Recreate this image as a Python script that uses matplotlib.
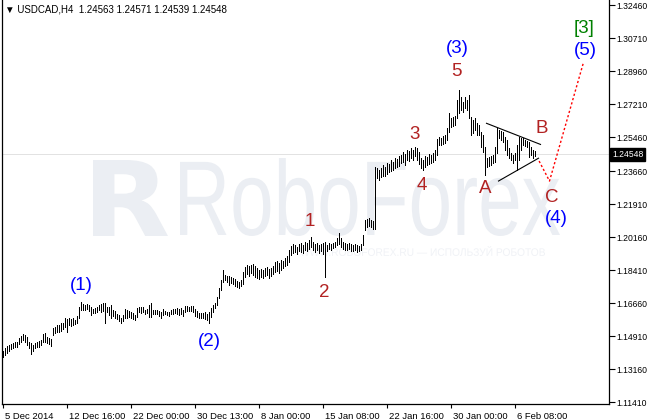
import numpy as np
import matplotlib
matplotlib.use("Agg")
import matplotlib.pyplot as plt
from matplotlib.textpath import TextPath
from matplotlib.patches import PathPatch
from matplotlib.font_manager import FontProperties
from matplotlib.transforms import Affine2D, ScaledTranslation, blended_transform_factory

plt.rcParams["font.family"] = ["Liberation Sans", "DejaVu Sans"]

# USDCAD H4 bars (high / low)
bar_high = [
    1.1412, 1.1428, 1.1439, 1.1444, 1.1449, 1.1455, 1.1460, 1.1460, 1.1481, 1.1492,
    1.1502, 1.1497, 1.1486, 1.1460, 1.1455, 1.1444, 1.1455, 1.1460, 1.1465, 1.1471,
    1.1502, 1.1508, 1.1486, 1.1481, 1.1476, 1.1534, 1.1539, 1.1550, 1.1550, 1.1561,
    1.1561, 1.1587, 1.1582, 1.1587, 1.1582, 1.1587, 1.1576, 1.1598, 1.1645, 1.1672,
    1.1661, 1.1656, 1.1661, 1.1656, 1.1645, 1.1635, 1.1640, 1.1645, 1.1656, 1.1661,
    1.1667, 1.1667, 1.1645, 1.1645, 1.1656, 1.1630, 1.1624, 1.1608, 1.1603, 1.1587,
    1.1603, 1.1635, 1.1630, 1.1624, 1.1619, 1.1614, 1.1603, 1.1640, 1.1645, 1.1645,
    1.1645, 1.1630, 1.1635, 1.1656, 1.1667, 1.1630, 1.1630, 1.1630, 1.1624, 1.1619,
    1.1635, 1.1624, 1.1619, 1.1619, 1.1630, 1.1635, 1.1635, 1.1640, 1.1635, 1.1640,
    1.1630, 1.1651, 1.1651, 1.1645, 1.1651, 1.1651, 1.1635, 1.1624, 1.1614, 1.1614,
    1.1614, 1.1619, 1.1608, 1.1619, 1.1640, 1.1656, 1.1667, 1.1698, 1.1746, 1.1788,
    1.1841, 1.1815, 1.1810, 1.1810, 1.1804, 1.1799, 1.1794, 1.1783, 1.1778, 1.1788,
    1.1831, 1.1857, 1.1868, 1.1863, 1.1868, 1.1873, 1.1863, 1.1852, 1.1841, 1.1847,
    1.1841, 1.1852, 1.1857, 1.1847, 1.1852, 1.1863, 1.1884, 1.1889, 1.1879, 1.1895,
    1.1889, 1.1905, 1.1916, 1.1947, 1.1969, 1.1979, 1.1974, 1.1963, 1.1979, 1.1985,
    1.1974, 1.1990, 1.1985, 1.2000, 1.2016, 1.1990, 1.1979, 1.1985, 1.1974, 1.1979,
    1.1985, 1.1990, 1.1974, 1.1985, 1.1979, 1.1985, 1.1990, 1.2011, 1.2038, 1.2011,
    1.1990, 1.1985, 1.1979, 1.1985, 1.1979, 1.1974, 1.1979, 1.1974, 1.1969, 1.1979,
    1.2027, 1.2107, 1.2112, 1.2117, 1.2107, 1.2101, 1.2387, 1.2382, 1.2372, 1.2382,
    1.2398, 1.2387, 1.2409, 1.2403, 1.2425, 1.2414, 1.2435, 1.2430, 1.2446, 1.2451,
    1.2467, 1.2456, 1.2478, 1.2472, 1.2488, 1.2478, 1.2493, 1.2488, 1.2467, 1.2435,
    1.2425, 1.2446, 1.2440, 1.2456, 1.2451, 1.2462, 1.2478, 1.2536, 1.2546, 1.2541,
    1.2552, 1.2557, 1.2594, 1.2674, 1.2647, 1.2652, 1.2658, 1.2743, 1.2796, 1.2758,
    1.2732, 1.2758, 1.2743, 1.2769, 1.2652, 1.2637, 1.2647, 1.2621, 1.2610, 1.2573,
    1.2557, 1.2493, 1.2435, 1.2440, 1.2446, 1.2451, 1.2493, 1.2594, 1.2583, 1.2578,
    1.2573, 1.2546, 1.2530, 1.2488, 1.2462, 1.2451, 1.2462, 1.2504, 1.2546, 1.2541,
    1.2541, 1.2530, 1.2525, 1.2520, 1.2493, 1.2478, 1.2472, 1.24571,
]
bar_low = [
    1.1380, 1.1391, 1.1402, 1.1412, 1.1423, 1.1428, 1.1433, 1.1433, 1.1449, 1.1460,
    1.1471, 1.1460, 1.1444, 1.1428, 1.1396, 1.1412, 1.1428, 1.1433, 1.1433, 1.1444,
    1.1460, 1.1460, 1.1455, 1.1449, 1.1439, 1.1497, 1.1508, 1.1513, 1.1513, 1.1518,
    1.1529, 1.1539, 1.1513, 1.1550, 1.1545, 1.1550, 1.1555, 1.1561, 1.1587, 1.1630,
    1.1630, 1.1630, 1.1635, 1.1624, 1.1603, 1.1614, 1.1614, 1.1619, 1.1630, 1.1619,
    1.1624, 1.1561, 1.1619, 1.1603, 1.1587, 1.1598, 1.1587, 1.1582, 1.1571, 1.1561,
    1.1571, 1.1587, 1.1587, 1.1592, 1.1587, 1.1582, 1.1576, 1.1592, 1.1619, 1.1614,
    1.1619, 1.1608, 1.1614, 1.1592, 1.1592, 1.1608, 1.1608, 1.1608, 1.1598, 1.1587,
    1.1603, 1.1608, 1.1603, 1.1598, 1.1608, 1.1608, 1.1614, 1.1608, 1.1603, 1.1608,
    1.1598, 1.1619, 1.1624, 1.1624, 1.1624, 1.1619, 1.1598, 1.1592, 1.1587, 1.1587,
    1.1587, 1.1582, 1.1576, 1.1561, 1.1592, 1.1619, 1.1640, 1.1656, 1.1693, 1.1735,
    1.1778, 1.1788, 1.1778, 1.1762, 1.1773, 1.1767, 1.1757, 1.1751, 1.1746, 1.1757,
    1.1767, 1.1804, 1.1820, 1.1810, 1.1826, 1.1815, 1.1804, 1.1799, 1.1794, 1.1804,
    1.1799, 1.1810, 1.1815, 1.1799, 1.1810, 1.1820, 1.1831, 1.1836, 1.1826, 1.1841,
    1.1852, 1.1863, 1.1868, 1.1884, 1.1921, 1.1932, 1.1937, 1.1926, 1.1942, 1.1937,
    1.1932, 1.1947, 1.1942, 1.1953, 1.1963, 1.1947, 1.1937, 1.1947, 1.1932, 1.1942,
    1.1926, 1.1804, 1.1942, 1.1953, 1.1947, 1.1958, 1.1963, 1.1974, 1.1979, 1.1963,
    1.1953, 1.1947, 1.1947, 1.1953, 1.1942, 1.1942, 1.1947, 1.1937, 1.1942, 1.1947,
    1.1974, 1.2053, 1.2069, 1.2075, 1.2069, 1.2059, 1.2059, 1.2329, 1.2319, 1.2334,
    1.2340, 1.2340, 1.2350, 1.2361, 1.2366, 1.2372, 1.2382, 1.2387, 1.2393, 1.2409,
    1.2414, 1.2398, 1.2425, 1.2419, 1.2435, 1.2425, 1.2446, 1.2425, 1.2403, 1.2382,
    1.2372, 1.2387, 1.2398, 1.2403, 1.2409, 1.2414, 1.2425, 1.2451, 1.2504, 1.2504,
    1.2509, 1.2515, 1.2530, 1.2573, 1.2599, 1.2605, 1.2610, 1.2647, 1.2674, 1.2689,
    1.2679, 1.2700, 1.2689, 1.2647, 1.2557, 1.2568, 1.2583, 1.2557, 1.2557, 1.2493,
    1.2467, 1.2345, 1.2387, 1.2393, 1.2398, 1.2409, 1.2414, 1.2462, 1.2541, 1.2530,
    1.2520, 1.2478, 1.2451, 1.2435, 1.2425, 1.2409, 1.2425, 1.2372, 1.2425, 1.2478,
    1.2504, 1.2499, 1.2493, 1.2440, 1.2451, 1.2435, 1.2446, 1.24539,
]

last_price = 1.24548
header = "\u25bc USDCAD,H4  1.24563 1.24571 1.24539 1.24548"

price_ticks = [1.32460, 1.30710, 1.28960, 1.27210, 1.25460, 1.23660, 1.21910,
               1.20160, 1.18410, 1.16660, 1.14910, 1.13160, 1.11410]
time_label_bars = [0, 32, 64, 96, 128, 160, 192, 224, 256]
time_labels = ["5 Dec 2014", "12 Dec 16:00", "22 Dec 00:00", "30 Dec 13:00", "8 Jan 00:00",
               "15 Jan 08:00", "22 Jan 16:00", "30 Jan 00:00", "6 Feb 08:00"]

# triangle (wave 4) and projected path C -> (5)
tri_upper_x, tri_upper_y = [242, 269], [1.2619, 1.2507]
tri_lower_x, tri_lower_y = [248, 268], [1.2313, 1.2434]
proj_x = [268.3, 273.5, 290.5]
proj_y = [1.2419, 1.2313, 1.2942]

# wave labels: text, bar position, price, colour
BLUE, RED, GREEN = "#0000FF", "#B22222", "#008000"
wave_labels = [
    ("(1)", 39.3, 1.1757, BLUE), ("(2)", 103.4, 1.1465, BLUE),
    ("1", 153.9, 1.2096, RED), ("2", 160.9, 1.1720, RED),
    ("3", 205.9, 1.2562, RED), ("4", 209.9, 1.2287, RED),
    ("5", 226.9, 1.2891, RED), ("(3)", 227.4, 1.3018, BLUE),
    ("A", 241.4, 1.2276, RED), ("B", 269.4, 1.2594, RED),
    ("C", 274.4, 1.2228, RED), ("(4)", 276.9, 1.2117, BLUE),
    ("[3]", 290.9, 1.3124, GREEN), ("(5)", 291.4, 1.3007, BLUE),
]

W, H = 650, 420
WM = "#EBEEF3"

fig = plt.figure(figsize=(W / 100, H / 100), dpi=100)
ax = fig.add_axes([2 / W, 16 / H, 607 / W, 404 / H])
ax.patch.set_visible(False)


def watermark(text, box, family="Liberation Sans", weight="normal", color=WM):
    """Stretch a text path into a pixel box (x0, top, x1, bottom)."""
    x0, top, x1, bottom = box
    tp = TextPath((0, 0), text, size=1, prop=FontProperties(family=family, weight=weight))
    ext = tp.get_extents()
    sx = (x1 - x0) / ext.width / W
    sy = (bottom - top) / ext.height / H
    tr = (Affine2D().translate(-ext.x0, -ext.y0).scale(sx, sy)
          .translate(x0 / W, 1 - bottom / H) + fig.transFigure)
    ax.add_artist(PathPatch(tp, transform=tr, facecolor=color, lw=0, zorder=0.5))


watermark("R", (93, 160, 168, 236), family="DejaVu Sans", weight="bold")
watermark("RoboForex", (180, 158, 560, 236))
watermark("WWW.ROBOFOREX.RU \u2014 \u0418\u0421\u041f\u041e\u041b\u042c\u0417\u0423\u0419 "
          "\u0420\u041e\u0411\u041e\u0422\u041e\u0412", (300, 246, 545, 256), color="#F0F2F6")

idx = np.arange(len(bar_high))
ax.vlines(idx, bar_low, bar_high, colors="black", linewidth=0.72, antialiased=False, zorder=3)

ax.axhline(last_price, color="#E2E2E2", lw=0.72, zorder=1)
ax.plot(tri_upper_x, tri_upper_y, color="black", lw=0.8, zorder=4)
ax.plot(tri_lower_x, tri_lower_y, color="black", lw=0.8, zorder=4)
ax.plot(proj_x, proj_y, color="#FF0000", lw=1.0, linestyle=(0, (1.6, 1.6)), zorder=4)

for txt, bx, by, col in wave_labels:
    ax.text(bx, by, txt, color=col, fontsize=13.5, ha="center", va="center", zorder=5)

ax.set_xlim(-0.25, 303.25)
ax.set_ylim(1.11313, 1.32725)

ax.yaxis.tick_right()
ax.set_yticks(price_ticks)
ax.set_yticklabels([f"{p:.5f}" for p in price_ticks])
ax.tick_params(axis="y", direction="out", length=4, width=0.8, pad=1.5, labelsize=6.2)

ax.set_xticks(time_label_bars)
ax.set_xticklabels(time_labels, ha="left")
ax.tick_params(axis="x", direction="out", length=3, width=0.8, pad=2.5, labelsize=6.8)
for lab in ax.get_xticklabels():
    lab.set_transform(lab.get_transform() + ScaledTranslation(1.5 / 72, 0, fig.dpi_scale_trans))

ax.spines["top"].set_visible(False)
for s in ("left", "right", "bottom"):
    ax.spines[s].set_linewidth(0.9)

# current price tag on the axis
tag_tr = blended_transform_factory(ax.transAxes, ax.transData)
ax.text(1.005, last_price, f"{last_price:.5f}", transform=tag_tr, color="white", fontsize=6.2,
        ha="left", va="center", zorder=6, clip_on=False,
        bbox=dict(boxstyle="square,pad=0.2", fc="black", ec="black"))

fig.text(5 / W, 1 - 9 / H, header, fontsize=7, ha="left", va="center")

fig.savefig("out.png", dpi=100)
